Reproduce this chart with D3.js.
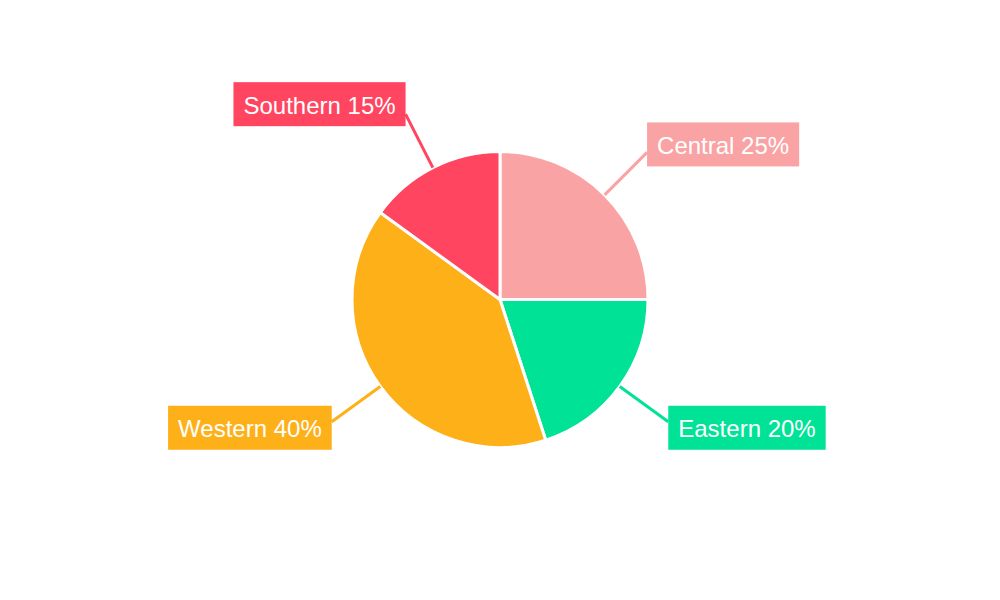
<!DOCTYPE html>
<html>
<head>
<meta charset="utf-8">
<script src="https://cdn.jsdelivr.net/npm/d3@7/dist/d3.min.js"></script>
<style>
  body { margin: 0; background: #fff; }
  text { font-family: "Liberation Sans", Arial, sans-serif; }
</style>
</head>
<body>
<div id="chart"></div>
<script>
var regions = ["Central", "Eastern", "Western", "Southern"];
var shares = [25, 20, 40, 15];
var colors = ["#F9A3A4", "#00E396", "#FEB019", "#FF4560"];

var width = 1000, height = 600;
var cx = 500, cy = 299.5, radius = 148;

var svg = d3.select("#chart").append("svg")
    .attr("width", width)
    .attr("height", height);

var g = svg.append("g")
    .attr("transform", "translate(" + cx + "," + cy + ")");

var data = regions.map(function(r, i){
    return {name: r, value: shares[i], color: colors[i]};
});

var pie = d3.pie()
    .sort(null)
    .value(function(d){ return d.value; });

var arc = d3.arc()
    .innerRadius(0)
    .outerRadius(radius);

var arcs = pie(data);

// slices
g.selectAll("path.slice")
    .data(arcs)
    .enter()
    .append("path")
    .attr("class", "slice")
    .attr("d", arc)
    .attr("fill", function(d){ return d.data.color; })
    .attr("stroke", "#fff")
    .attr("stroke-width", 3);

// leader lines + labels
var lineEnd = radius + 60;
arcs.forEach(function(d){
    var mid = (d.startAngle + d.endAngle) / 2;
    var sx = Math.sin(mid) * radius, sy = -Math.cos(mid) * radius;
    var ex = Math.sin(mid) * lineEnd, ey = -Math.cos(mid) * lineEnd;
    var right = Math.sin(mid) >= 0;

    g.append("line")
        .attr("x1", sx).attr("y1", sy)
        .attr("x2", ex).attr("y2", ey)
        .attr("stroke", d.data.color)
        .attr("stroke-width", 3);

    var label = g.append("g");
    var txt = label.append("text")
        .attr("fill", "#fff")
        .style("font-size", "24px")
        .attr("dominant-baseline", "central")
        .text(d.data.name + " " + d.data.value + "%");
    var tw = txt.node().getComputedTextLength();
    var bw = tw + 20, bh = 44;
    var bx = right ? ex : ex - bw;
    var byc = ey + (Math.cos(mid) > 0 ? -8 : 6);
    if (d.data.name === "Southern") byc = ey - 10;

    label.insert("rect", "text")
        .attr("x", bx).attr("y", byc - bh / 2)
        .attr("width", bw).attr("height", bh)
        .attr("fill", d.data.color);
    txt.attr("x", bx + 10).attr("y", byc + 1);
});
</script>
</body>
</html>
